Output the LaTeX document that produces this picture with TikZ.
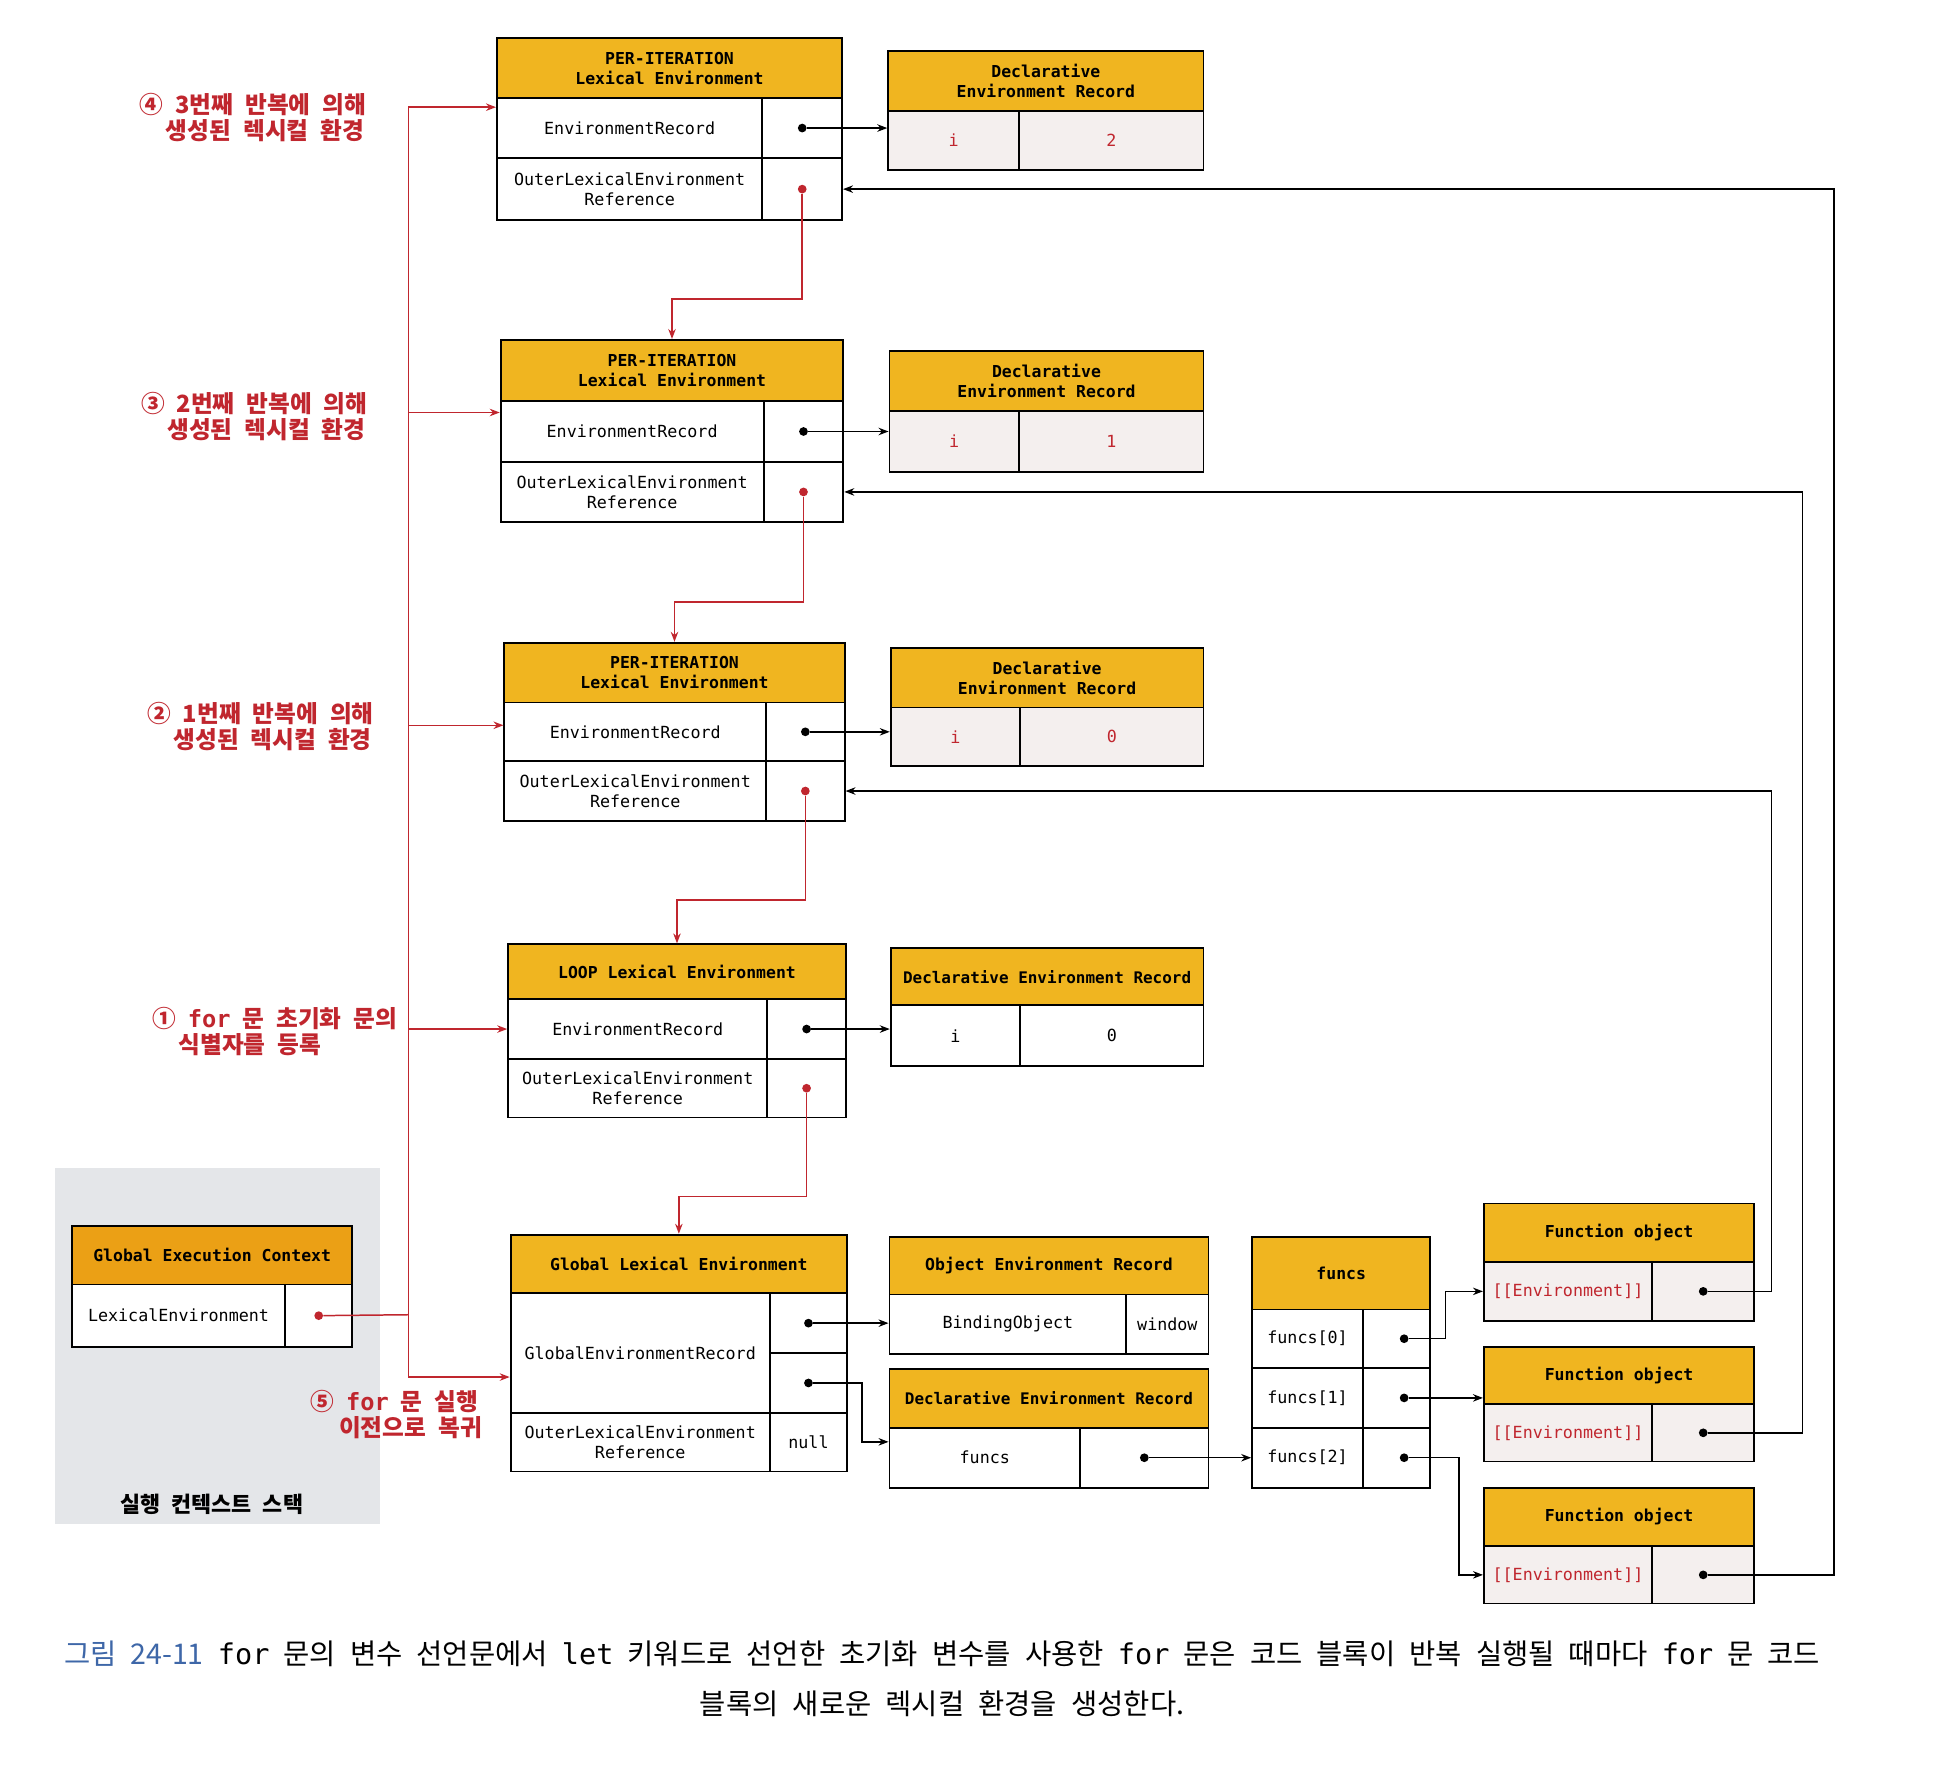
\documentclass[tikz,border=0pt]{standalone}
\usepackage{fontspec}
\setmonofont{DejaVu Sans Mono}
\newfontfamily\kr{Noto Sans CJK KR}
\newfontfamily\krw[WordSpace=2.2]{Noto Sans CJK KR}
\usetikzlibrary{arrows.meta,calc}
\definecolor{hdr}{HTML}{F0B520}
\definecolor{hdrO}{HTML}{EBA015}
\definecolor{red1}{HTML}{C0262E}
\definecolor{cellg}{HTML}{F4EFEE}
\definecolor{panel}{HTML}{E4E6E9}
\definecolor{capblue}{HTML}{3E67A8}
\tikzset{
  cell/.style={draw=black, line width=1.5pt, anchor=north west, inner sep=0pt, align=center,
    font=\ttfamily\fontsize{13.4}{16}\selectfont},
  vcell/.style={cell, fill=cellg},
  hcell/.style={cell, fill=hdr, font=\ttfamily\bfseries\fontsize{13.2}{16}\selectfont},
  dot/.style={circle, fill=black, inner sep=0pt, minimum size=7pt},
  rdot/.style={dot, fill=red1},
  arr/.style={-{Stealth[length=8pt,width=6pt]}, line width=1.2pt},
  rarr/.style={arr, draw=red1},
  rline/.style={draw=red1, line width=1.2pt},
  lbl/.style={text=red1, font=\krw\bfseries\fontsize{19}{21}\selectfont, align=left, anchor=west, inner sep=0pt},
}
\newcommand\mkc[7]{\node[#6, minimum width=#4pt, minimum height=#5pt] (#1) at (#2,#3) {#7};}
\begin{document}
\begin{tikzpicture}[x=1pt,y=-1pt]
\useasboundingbox (0,0) rectangle (1568,1417);
\fill[white] (0,0) rectangle (1568,1417);
% execution context stack panel
\node[fill=panel, anchor=north west, minimum width=261pt, minimum height=286pt, inner sep=0pt] (panel) at (44,937) {};
\node[font=\kr\bfseries\fontsize{17.5}{19}\selectfont] (stk) at (170,1207) {실행 컨텍스트 스택};
\mkc{gech}{57}{983}{225}{47}{hcell,fill=hdrO}{Global Execution Context}
\mkc{gecl}{57}{1030}{171}{50}{cell,fill=white}{LexicalEnvironment}
\mkc{gecv}{228}{1030}{54}{50}{cell,fill=white}{}
% 3rd iteration
\mkc{p4h}{398}{30}{277}{48}{hcell}{PER-ITERATION\\Lexical Environment}
\mkc{p4e}{398}{78}{213}{48}{cell}{EnvironmentRecord}
\mkc{p4ev}{611}{78}{64}{48}{cell}{}
\mkc{p4o}{398}{126}{213}{50}{cell}{OuterLexicalEnvironment\\Reference}
\mkc{p4ov}{611}{126}{64}{50}{cell}{}
\mkc{d4h}{712}{40}{253}{48}{hcell}{Declarative\\Environment Record}
\mkc{d4a}{712}{88}{105}{48}{vcell,text=red1}{i}
\mkc{d4b}{817}{88}{148}{48}{vcell,text=red1}{2}
% 2nd iteration
\mkc{p3h}{401}{272}{275}{49}{hcell}{PER-ITERATION\\Lexical Environment}
\mkc{p3e}{401}{321}{211}{49}{cell}{EnvironmentRecord}
\mkc{p3ev}{612}{321}{64}{49}{cell}{}
\mkc{p3o}{401}{370}{211}{48}{cell}{OuterLexicalEnvironment\\Reference}
\mkc{p3ov}{612}{370}{64}{48}{cell}{}
\mkc{d3h}{713}{281}{252}{48}{hcell}{Declarative\\Environment Record}
\mkc{d3a}{713}{329}{104}{49}{vcell,text=red1}{i}
\mkc{d3b}{817}{329}{148}{49}{vcell,text=red1}{1}
% 1st iteration
\mkc{p2h}{404}{515}{273}{48}{hcell}{PER-ITERATION\\Lexical Environment}
\mkc{p2e}{404}{563}{210}{47}{cell}{EnvironmentRecord}
\mkc{p2ev}{614}{563}{63}{47}{cell}{}
\mkc{p2o}{404}{610}{210}{48}{cell}{OuterLexicalEnvironment\\Reference}
\mkc{p2ov}{614}{610}{63}{48}{cell}{}
\mkc{d2h}{714}{519}{251}{48}{hcell}{Declarative\\Environment Record}
\mkc{d2a}{714}{567}{104}{47}{vcell,text=red1}{i}
\mkc{d2b}{818}{567}{147}{47}{vcell,text=red1}{0}
% loop
\mkc{lph}{407}{757}{271}{44}{hcell}{LOOP Lexical Environment}
\mkc{lpe}{407}{801}{208}{48}{cell}{EnvironmentRecord}
\mkc{lpev}{615}{801}{63}{48}{cell}{}
\mkc{lpo}{407}{849}{208}{47}{cell}{OuterLexicalEnvironment\\Reference}
\mkc{lpov}{615}{849}{63}{47}{cell}{}
\mkc{dlh}{714}{760}{251}{46}{hcell,font=\ttfamily\bfseries\fontsize{12.8}{16}\selectfont}{Declarative Environment Record}
\mkc{dla}{714}{806}{104}{49}{cell}{i}
\mkc{dlb}{818}{806}{147}{49}{cell}{0}
% global
\mkc{glh}{409}{990}{270}{47}{hcell}{Global Lexical Environment}
\mkc{gle}{409}{1037}{208}{96}{cell}{GlobalEnvironmentRecord}
\mkc{glv1}{617}{1037}{62}{48}{cell}{}
\mkc{glv2}{617}{1085}{62}{48}{cell}{}
\mkc{glo}{409}{1133}{208}{47}{cell}{OuterLexicalEnvironment\\Reference}
\mkc{glov}{617}{1133}{62}{47}{cell}{null}
\mkc{oh}{713}{992}{256}{46}{hcell}{Object Environment Record}
\mkc{ob}{713}{1038}{190}{48}{cell}{BindingObject}
\mkc{ow}{903}{1038}{66}{48}{cell}{window}
\mkc{dh}{713}{1098}{256}{47}{hcell,font=\ttfamily\bfseries\fontsize{12.8}{16}\selectfont}{Declarative Environment Record}
\mkc{df}{713}{1145}{153}{48}{cell}{funcs}
\mkc{dv}{866}{1145}{103}{48}{cell}{}
% funcs array
\mkc{fh}{1004}{992}{143}{58}{hcell}{funcs}
\mkc{f0}{1004}{1050}{89}{47}{cell}{funcs[0]}
\mkc{f0v}{1093}{1050}{54}{47}{cell}{}
\mkc{f1}{1004}{1097}{89}{48}{cell}{funcs[1]}
\mkc{f1v}{1093}{1097}{54}{48}{cell}{}
\mkc{f2}{1004}{1145}{89}{48}{cell}{funcs[2]}
\mkc{f2v}{1093}{1145}{54}{48}{cell}{}
% function objects
\mkc{fo1h}{1190}{965}{217}{47}{hcell}{Function object}
\mkc{fo1r}{1190}{1012}{135}{47}{vcell,text=red1}{[[Environment]]}
\mkc{fo1v}{1325}{1012}{82}{47}{vcell}{}
\mkc{fo2h}{1190}{1080}{217}{46}{hcell}{Function object}
\mkc{fo2r}{1190}{1126}{135}{46}{vcell,text=red1}{[[Environment]]}
\mkc{fo2v}{1325}{1126}{82}{46}{vcell}{}
\mkc{fo3h}{1190}{1193}{217}{47}{hcell}{Function object}
\mkc{fo3r}{1190}{1240}{135}{46}{vcell,text=red1}{[[Environment]]}
\mkc{fo3v}{1325}{1240}{82}{46}{vcell}{}
% dots
\node[rdot] (gecd) at (gecv.center) {};
\node[dot] (p4ed) at (p4ev.center) {};
\node[rdot] (p4od) at (p4ov.center) {};
\node[dot] (p3ed) at (p3ev.center) {};
\node[rdot] (p3od) at (p3ov.center) {};
\node[dot] (p2ed) at (p2ev.center) {};
\node[rdot] (p2od) at (p2ov.center) {};
\node[dot] (lped) at (lpev.center) {};
\node[rdot] (lpod) at (lpov.center) {};
\node[dot] (gd1) at (glv1.center) {};
\node[dot] (gd2) at (glv2.center) {};
\node[dot] (dvd) at (dv.center) {};
\node[dot] (f0d) at ($(f0v.center)+(6,0)$) {};
\node[dot] (f1d) at ($(f1v.center)+(6,0)$) {};
\node[dot] (f2d) at ($(f2v.center)+(6,0)$) {};
\node[dot] (fo1d) at (fo1v.center) {};
\node[dot] (fo2d) at (fo2v.center) {};
\node[dot] (fo3d) at (fo3v.center) {};
% environment record arrows
\draw[arr] (p4ed) -- (p4ed -| d4a.west);
\draw[arr] (p3ed) -- (p3ed -| d3a.west);
\draw[arr] (p2ed) -- (p2ed -| d2a.west);
\draw[arr] (lped) -- (lped -| dla.west);
\draw[arr] (gd1) -- (gd1 -| ob.west);
\draw[arr] (gd2) -- ++(43,0) |- ($(df.north west)+(0,12)$);
\draw[arr] (dvd) -- (dvd -| f2.west);
\draw[arr] (f0d) -- ++(33,0) |- (fo1r.west);
\draw[arr] (f1d) -- (f1d -| fo2r.west);
\draw[arr] (f2d) -- ++(44,0) |- (fo3r.west);
% outer references (red chain)
\draw[rarr] (p4od) |- ($(p3h.north)+(0,-32)$) -- (p3h.north);
\draw[rarr] (p3od) |- ($(p2h.north)+(0,-32)$) -- (p2h.north);
\draw[rarr] (p2od) |- ($(lph.north)+(0,-35)$) -- (lph.north);
\draw[rarr] (lpod) |- ($(glh.north)+(0,-30)$) -- (glh.north);
% [[Environment]] back references
\draw[arr] (fo3d) -| ($(p4ov.east)+(795,0)$) -- (p4ov.east);
\draw[arr] (fo2d) -| ($(p3ov.east)+(769,0)$) -- (p3ov.east);
\draw[arr] (fo1d) -| ($(p2ov.east)+(743,0)$) -- (p2ov.east);
% execution context LexicalEnvironment bus
\coordinate (bus) at (328,1055);
\draw[rline] (gecd) -- (bus);
\draw[rarr] (bus) |- ($(p4e.north west)+(0,8)$);
\draw[rarr] (bus) |- ($(p3e.north west)+(0,10)$);
\draw[rarr] (bus) |- ($(p2e.north west)+(0,19)$);
\draw[rarr] (bus) |- (lpe.west);
\draw[rarr] (bus) |- ($(gle.north west)+(0,68)$);
% labels
\node[lbl] (l4) at (112,94) {④ 3번째 반복에 의해\\\hspace*{21pt}생성된 렉시컬 환경};
\node[lbl] (l3) at (113,334) {③ 2번째 반복에 의해\\\hspace*{21pt}생성된 렉시컬 환경};
\node[lbl] (l2) at (118,583) {② 1번째 반복에 의해\\\hspace*{21pt}생성된 렉시컬 환경};
\node[lbl] (l1) at (122,828) {① {\ttfamily\bfseries for} 문 초기화 문의\\\hspace*{21pt}식별자를 등록};
\node[lbl] (l5) at (249,1135) {⑤ {\ttfamily\bfseries for} 문 실행\\\hspace*{23pt}이전으로 복귀};
% caption
\node[font=\kr\fontsize{22.9}{40}\selectfont, align=center] (cap) at (756,1347)
  {{\color{capblue}그림 24-11} {\ttfamily for} 문의 변수 선언문에서 {\ttfamily let} 키워드로 선언한 초기화 변수를 사용한 {\ttfamily for} 문은 코드 블록이 반복 실행될 때마다 {\ttfamily for} 문 코드\\블록의 새로운 렉시컬 환경을 생성한다.};
\end{tikzpicture}
\end{document}
